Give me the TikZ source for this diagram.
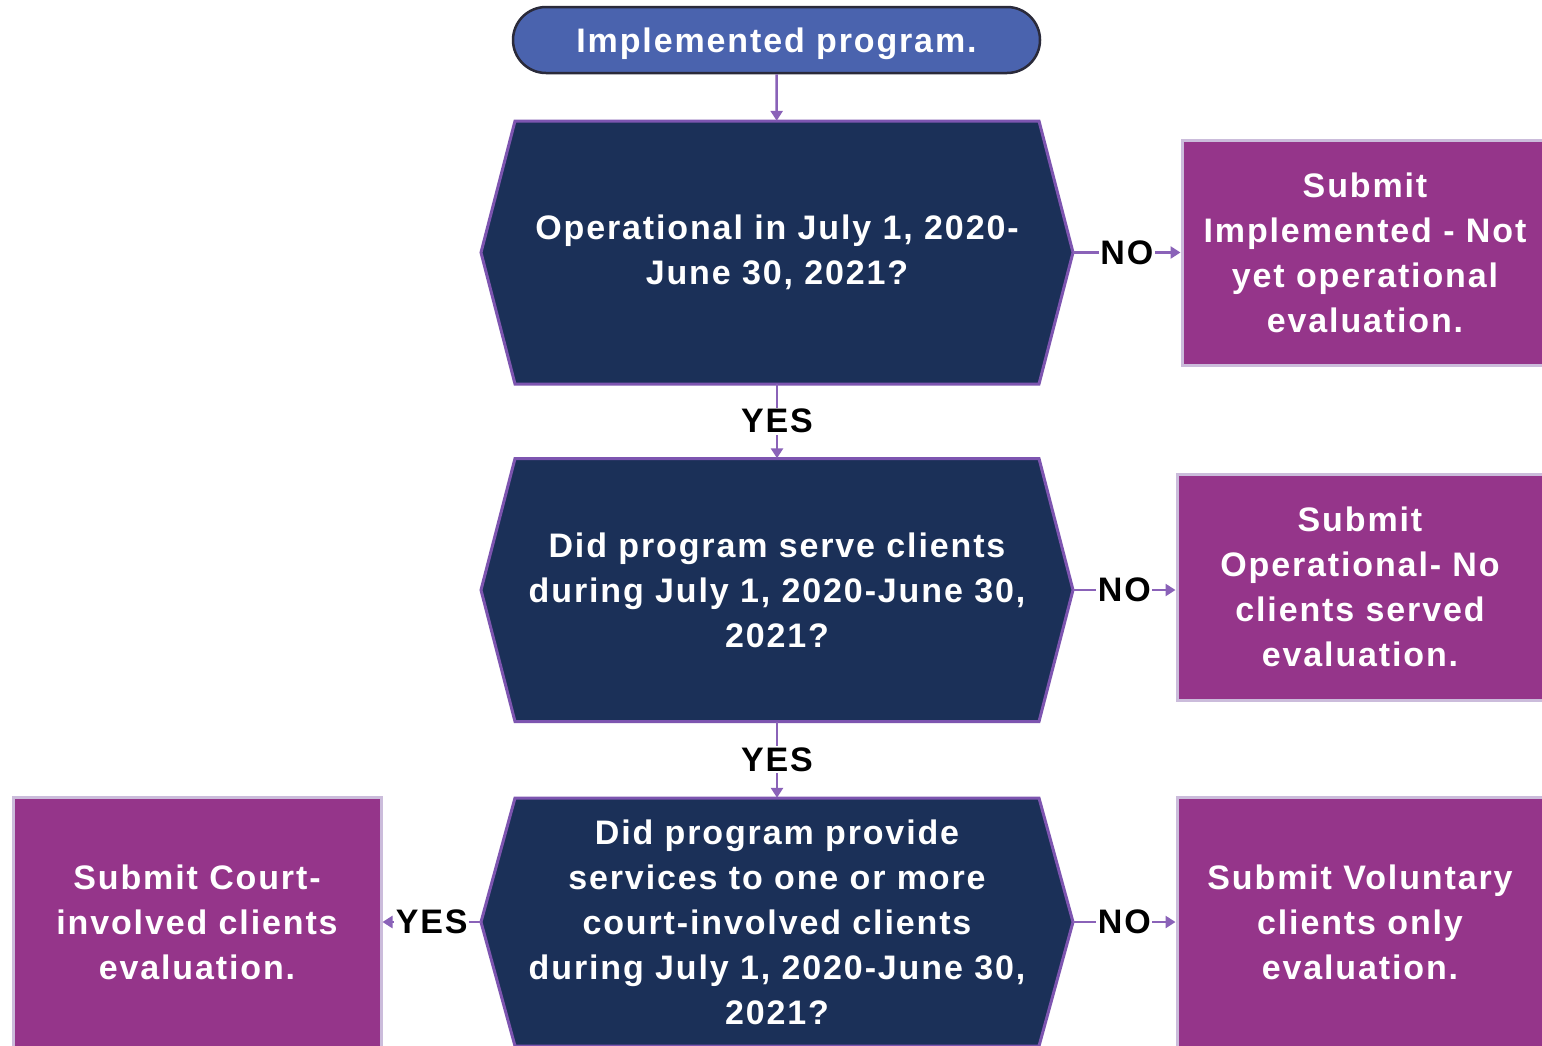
\documentclass[tikz,border=0pt]{standalone}
\usepackage{fontspec}
\setmainfont{Liberation Sans}[LetterSpace=5.5]
\usetikzlibrary{arrows.meta,calc}
\definecolor{navy}{HTML}{1B3058}
\definecolor{hexedge}{HTML}{7D55B0}
\definecolor{boxc}{HTML}{95358A}
\definecolor{boxedge}{HTML}{CBBCDB}
\definecolor{pillc}{HTML}{4A63AE}
\definecolor{pilledge}{HTML}{2A2A3A}
\definecolor{arrowc}{HTML}{8A62B8}
\newcommand{\hexshape}[3]{%
  \path[fill=navy, draw=hexedge, line width=3pt]
    (#1-296,#2) -- (#1-262,#2-#3) -- (#1+262,#2-#3) -- (#1+296,#2)
    -- (#1+262,#2+#3) -- (#1-262,#2+#3) -- cycle;}
\tikzset{
  txt/.style={font=\fontsize{34}{45}\selectfont\bfseries, text=white, align=center},
  lbl/.style={font=\fontsize{34}{40}\selectfont\bfseries, text=black, fill=white, inner sep=1.5pt},
  conn/.style={draw=arrowc, line width=2.5pt, -{Triangle[length=10pt,width=12pt]}},
  pbox/.style={txt, fill=boxc, draw=boxedge, line width=3pt, minimum width=366pt, inner sep=0pt},
  hexnode/.style={txt, minimum width=592pt, inner sep=0pt},
  pill/.style={txt, fill=pillc, draw=pilledge, line width=2.5pt, rounded corners=33pt,
    minimum width=527pt, minimum height=66pt, inner sep=0pt, text height=24.5pt, text depth=0pt}
}
\begin{document}
\begin{tikzpicture}[x=1pt,y=-1pt]
\clip (0,0) rectangle (1542,1045);
\fill[white] (0,0) rectangle (1542,1045);

\node[pill] (pill) at (776.5,40) {Implemented program.};

\hexshape{777}{252.5}{131.5}
\node[hexnode, minimum height=263pt] (h1) at (777,252.5) {Operational in July 1, 2020-\\June 30, 2021?};

\hexshape{777}{590}{131.5}
\node[hexnode, minimum height=263pt] (h2) at (777,590) {Did program serve clients\\during July 1, 2020-June 30,\\2021?};

\hexshape{777}{922}{124}
\node[hexnode, minimum height=248pt] (h3) at (777,922) {Did program provide\\services to one or more\\court-involved clients\\during July 1, 2020-June 30,\\2021?};

\node[pbox, minimum height=225pt] (b1) at (1365,252.5) {Submit\\Implemented - Not\\yet operational\\evaluation.};
\node[pbox, minimum height=226pt] (b2) at (1360,587) {Submit\\Operational- No\\clients served\\evaluation.};
\node[pbox, minimum height=250pt] (b3) at (1360,922) {Submit Voluntary\\clients only\\evaluation.};
\node[pbox, minimum width=368pt, minimum height=250pt] (bl) at (197,922) {Submit Court-\\involved clients\\evaluation.};

\draw[conn] (pill) -- (h1);
\draw[conn] (h1.east) -- node[lbl] {NO} (h1.east -| b1.west);
\draw[conn] (h1.south) -- node[lbl] {YES} (h2.north);
\draw[conn] (h2.east) -- node[lbl] {NO} (h2.east -| b2.west);
\draw[conn] (h2.south) -- node[lbl] {YES} (h3.north);
\draw[conn] (h3.east) -- node[lbl] {NO} (h3.east -| b3.west);
\draw[conn] (h3.west) -- node[lbl] {YES} (h3.west -| bl.east);
\end{tikzpicture}
\end{document}
